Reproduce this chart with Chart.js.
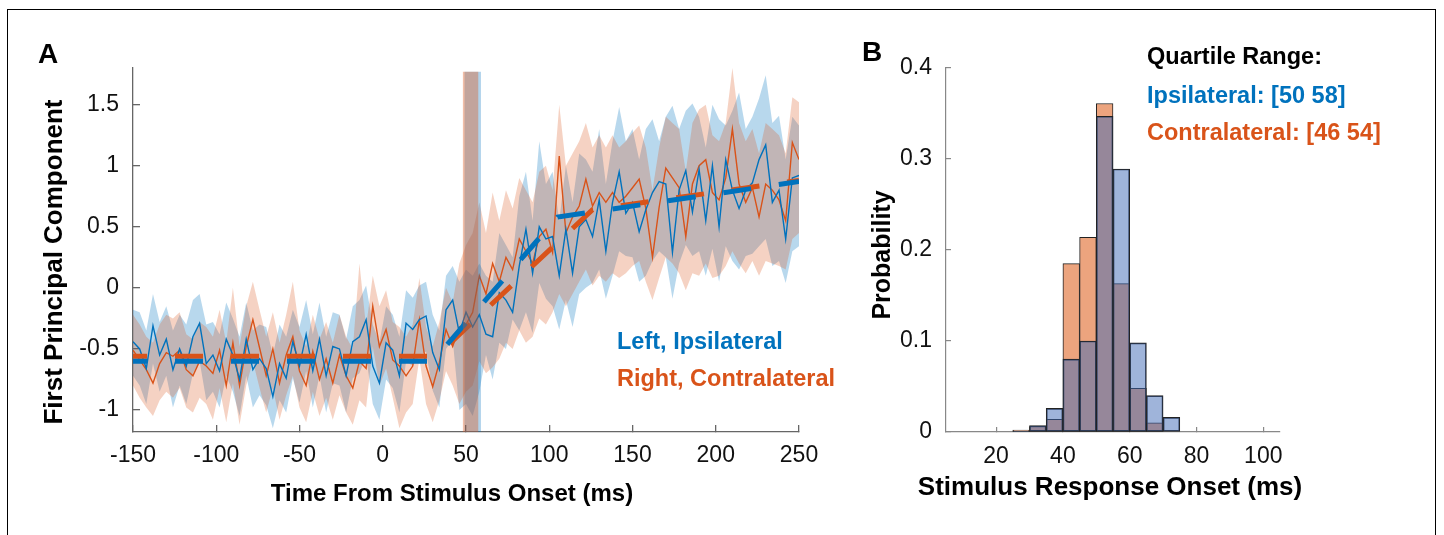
<!DOCTYPE html>
<html>
<head>
<meta charset="utf-8">
<script src="https://cdn.jsdelivr.net/npm/chart.js@4.4.1/dist/chart.umd.min.js"></script>
<style>
  html, body { margin: 0; padding: 0; background: #fff; }
  body { width: 1444px; height: 535px; position: relative; overflow: hidden; }
  #frame {
    position: absolute; left: 7px; top: 9px; width: 1427px; height: 540px;
    border-top: 1.5px solid #000; border-left: 1.5px solid #000; border-right: 1.5px solid #000;
  }
  #panelA { position: absolute; left: 0; top: 0; }
  #panelB { position: absolute; left: 846px; top: 0; }
</style>
</head>
<body>
<div id="frame"></div>
<canvas id="panelA" width="840" height="535"></canvas>
<canvas id="panelB" width="598" height="535"></canvas>
<script>
const FONT = "'Liberation Sans', Arial, Helvetica, sans-serif";
const BLUE = "#0072BD";
const ORANGE = "#D95319";

// ---- panel A: time axis (ms), 4 ms steps ----
const timeMs = [
  -150, -146, -142, -138, -134, -130, -126, -122, -118, -114,
  -110, -106, -102, -98, -94, -90, -86, -82, -78, -74,
  -70, -66, -62, -58, -54, -50, -46, -42, -38, -34,
  -30, -26, -22, -18, -14, -10, -6, -2, 2, 6,
  10, 14, 18, 22, 26, 30, 34, 38, 42, 46,
  50, 54, 58, 62, 66, 70, 74, 78, 82, 86,
  90, 94, 98, 102, 106, 110, 114, 118, 122, 126,
  130, 134, 138, 142, 146, 150, 154, 158, 162, 166,
  170, 174, 178, 182, 186, 190, 194, 198, 202, 206,
  210, 214, 218, 222, 226, 230, 234, 238, 242, 246,
  250,
];

// Left, ipsilateral: mean and shaded band
const ipsiMean = [
  -0.44, -0.50, -0.66, -0.31, -0.55, -0.42, -0.67, -0.50, -0.64, -0.40,
  -0.29, -0.62, -0.55, -0.68, -0.42, -0.55, -0.75, -0.42, -0.67, -0.58,
  -0.66, -0.89, -0.62, -0.74, -0.44, -0.64, -0.38, -0.68, -0.42, -0.72,
  -0.48, -0.50, -0.72, -0.44, -0.40, -0.26, -0.64, -0.78, -0.45, -0.51,
  -0.72, -0.29, -0.34, -0.26, -0.23, -0.53, -0.67, -0.18, -0.10, -0.37,
  -0.20, -0.32, -0.22, -0.38, -0.40, -0.04, -0.10, -0.20, 0.18, 0.48,
  0.12, 0.50, 0.40, 0.42, 0.10, 0.48, 0.12, 0.50, 0.56, 0.42,
  0.72, 0.30, 0.70, 0.95, 0.61, 0.70, 0.46, 0.64, 0.78, 0.87,
  0.85, 0.29, 0.80, 0.96, 0.62, 0.97, 0.55, 1.00, 0.50, 1.05,
  0.80, 0.65, 0.80, 0.86, 1.05, 1.17, 0.70, 0.80, 0.40, 0.90,
  0.92,
];
const ipsiHigh = [
  -0.18, -0.20, -0.35, -0.05, -0.28, -0.15, -0.35, -0.22, -0.30, -0.10,
  -0.05, -0.30, -0.28, -0.38, -0.12, -0.25, -0.40, -0.12, -0.35, -0.30,
  -0.32, -0.55, -0.30, -0.40, -0.18, -0.32, -0.10, -0.38, -0.12, -0.40,
  -0.20, -0.22, -0.42, -0.15, -0.10, 0.02, -0.30, -0.45, -0.15, -0.22,
  -0.40, -0.02, -0.08, 0.02, 0.05, -0.22, -0.35, 0.10, 0.18, 0.05,
  0.15, 0.10, 0.20, 0.10, 0.05, 0.45, 0.35, 0.25, 0.75, 0.95,
  0.55, 1.20, 0.85, 0.95, 0.55, 1.00, 0.70, 1.10, 1.05, 0.95,
  1.30, 0.85, 1.20, 1.48, 1.20, 1.30, 1.05, 1.30, 1.38, 1.20,
  1.40, 1.49, 1.30, 1.45, 1.51, 1.40, 1.15, 1.50, 1.38, 1.33,
  1.45, 1.60, 1.30, 1.40, 1.55, 1.74, 1.35, 1.41, 1.05, 1.40,
  1.33,
];
const ipsiLow = [
  -0.72, -0.80, -0.95, -0.62, -0.85, -0.72, -0.98, -0.80, -0.95, -0.70,
  -0.60, -0.92, -0.85, -0.98, -0.72, -0.85, -1.05, -0.72, -0.98, -0.88,
  -0.96, -1.15, -0.92, -1.02, -0.74, -0.94, -0.68, -0.98, -0.72, -1.02,
  -0.78, -0.80, -1.02, -0.74, -0.70, -0.56, -0.95, -1.08, -0.75, -0.82,
  -1.02, -0.60, -0.64, -0.56, -0.52, -0.84, -0.98, -0.50, -0.42, -1.00,
  -0.95, -1.05, -0.85, -0.55, -0.75, -0.45, -0.50, -0.26, -0.35, -0.20,
  -0.37, 0.04, -0.09, -0.15, -0.34, -0.10, -0.32, -0.05, 0.00, 0.04,
  0.15, -0.09, 0.10, 0.30, 0.26, 0.25, 0.05, 0.10, 0.22, 0.30,
  0.25, -0.09, 0.20, 0.35, 0.26, 0.30, 0.10, 0.32, 0.05, 0.34,
  0.22, 0.15, 0.26, 0.28, 0.34, 0.40, 0.18, 0.22, 0.04, 0.30,
  0.34,
];

// Right, contralateral: mean and shaded band
const contraMean = [
  -0.51, -0.59, -0.67, -0.78, -0.62, -0.53, -0.56, -0.51, -0.67, -0.72,
  -0.60, -0.64, -0.70, -0.51, -0.80, -0.45, -0.80, -0.48, -0.26, -0.49,
  -0.72, -0.50, -0.78, -0.55, -0.40, -0.68, -0.80, -0.52, -0.75, -0.58,
  -0.78, -0.55, -0.72, -0.82, -0.60, -0.66, -0.15, -0.48, -0.34, -0.59,
  -0.64, -0.72, -0.64, -0.26, -0.64, -0.81, -0.61, -0.34, -0.48, -0.32,
  -0.30, -0.20, 0.10, -0.05, 0.20, 0.05, 0.25, 0.15, 0.40, 0.30,
  0.20, 0.42, 0.48, 0.29, 1.08, 0.45, 0.58, 0.67, 0.89, 0.67,
  0.78, 0.70, 0.78, 0.70, 0.75, 0.82, 0.89, 0.65, 0.25, 0.66,
  0.98, 0.90, 0.82, 0.42, 0.85, 1.00, 1.05, 0.78, 0.72, 0.90,
  1.30, 0.85, 0.70, 0.82, 0.58, 0.85, 0.80, 0.72, 0.55, 1.19,
  1.05,
];
const contraHigh = [
  -0.22, -0.30, -0.40, -0.45, -0.30, -0.22, -0.25, -0.20, -0.38, -0.42,
  -0.28, -0.32, -0.40, -0.18, -0.45, 0.00, -0.48, -0.15, 0.05, -0.18,
  -0.40, -0.20, -0.45, -0.22, 0.05, -0.35, -0.48, -0.22, -0.42, -0.28,
  -0.45, -0.22, -0.40, -0.50, 0.20, -0.32, 0.10, -0.15, -0.02, -0.28,
  -0.32, -0.40, -0.30, 0.08, -0.32, -0.48, -0.28, 0.00, -0.12, 0.20,
  0.35, 0.45, 0.70, 0.45, 0.78, 0.55, 0.80, 0.65, 0.90, 0.80,
  0.70, 0.95, 1.00, 0.80, 1.50, 1.00, 1.10, 1.20, 1.35, 1.15,
  1.25, 1.15, 1.25, 1.15, 1.20, 1.27, 1.33, 1.15, 0.80, 1.15,
  1.40, 1.35, 1.30, 0.95, 1.35, 1.46, 1.50, 1.25, 1.20, 1.35,
  1.80, 1.35, 1.20, 1.30, 1.10, 1.35, 1.30, 1.25, 1.10, 1.56,
  1.52,
];
const contraLow = [
  -0.80, -0.90, -0.98, -1.05, -0.92, -0.85, -0.90, -0.82, -0.98, -1.02,
  -0.90, -0.95, -1.08, -0.82, -1.10, -0.78, -1.12, -0.80, -0.60, -0.82,
  -1.02, -0.82, -1.08, -0.88, -0.72, -0.98, -1.10, -0.85, -1.05, -0.90,
  -1.08, -0.88, -1.02, -1.12, -0.92, -0.98, -0.48, -0.80, -0.66, -0.90,
  -1.15, -1.02, -0.95, -0.58, -0.95, -1.10, -0.92, -0.68, -0.80, -0.95,
  -0.85, -0.80, -0.60, -0.70, -0.65, -0.58, -0.45, -0.50, -0.35, -0.45,
  -0.40, -0.25, -0.30, -0.20, -0.05, -0.15, -0.05, 0.05, 0.15, 0.02,
  0.10, 0.05, 0.12, 0.08, 0.12, 0.18, 0.22, 0.05, -0.10, 0.08,
  0.25, 0.20, 0.12, -0.02, 0.12, 0.10, 0.20, 0.08, 0.10, 0.18,
  0.30, 0.20, 0.12, 0.22, 0.10, 0.22, 0.20, 0.18, 0.15, 0.40,
  0.45,
];

// piecewise linear fits (knots)
const fitIpsiT = [-150, 30, 105, 250];
const fitIpsiV = [-0.60, -0.60, 0.58, 0.87];
const fitContraT = [-150, 32, 126, 250];
const fitContraV = [-0.56, -0.56, 0.64, 0.88];

// shaded onset spans (ms) and their top
const onsetSpanIpsi = [49, 59];
const onsetSpanContra = [48, 57.5];
const onsetTop = 1.77;

const xTicksA = [-150, 250, 50];    // min, max, step
const yTicksA = [-1.18, 1.8, 0.5];

// ---- panel B: histogram of response onset ----
const binCenters = [12.5, 17.5, 22.5, 27.5, 32.5, 37.5, 42.5, 47.5, 52.5, 57.5, 62.5, 67.5, 72.5, 77.5, 82.5, 87.5, 92.5, 97.5];
const probIpsi = [0, 0, 0, 0.001, 0.007, 0.026, 0.080, 0.100, 0.347, 0.289, 0.098, 0.040, 0.016, 0, 0, 0, 0, 0];
const probContra = [0, 0, 0, 0.002, 0.006, 0.014, 0.185, 0.214, 0.361, 0.163, 0.048, 0.010, 0, 0, 0, 0, 0, 0];
const xRangeB = [5, 105];
const xTickValuesB = [20, 40, 60, 80, 100];
const yTicksB = [0, 0.4, 0.1];

const pts = (xs, ys) => xs.map((x, i) => ({ x: x, y: ys[i] }));
const plainNumber = (v) => String(Number(Number(v).toFixed(2)));

// draws the panel letters, legends and axis titles as canvas text
function textLayer(id, items) {
  return {
    id: id,
    afterDraw(chart) {
      const ctx = chart.ctx;
      items.forEach((t) => {
        ctx.save();
        ctx.font = t.font;
        ctx.fillStyle = t.color || "#000";
        ctx.textAlign = t.align || "left";
        ctx.textBaseline = "middle";
        ctx.translate(t.x, t.y);
        if (t.rotate) ctx.rotate(-Math.PI / 2);
        ctx.fillText(t.text, 0, 0);
        ctx.restore();
      });
    },
  };
}

const flat = (color, order, data, fillTo) => ({
  type: "line",
  data: data,
  borderWidth: 0,
  pointRadius: 0,
  backgroundColor: color,
  fill: fillTo,
  order: order,
});

const tickFont = { family: FONT, size: 23 };

new Chart(document.getElementById("panelA").getContext("2d"), {
  type: "line",
  data: {
    datasets: [
      flat("rgba(0, 114, 189, 0.28)", 9, pts(timeMs, ipsiHigh), "+1"),
      flat("rgba(0, 114, 189, 0)", 9, pts(timeMs, ipsiLow), false),
      flat("rgba(217, 83, 25, 0.26)", 8, pts(timeMs, contraHigh), "+1"),
      flat("rgba(217, 83, 25, 0)", 8, pts(timeMs, contraLow), false),
      {
        label: "Right, Contralateral",
        data: pts(timeMs, contraMean),
        borderColor: ORANGE,
        borderWidth: 1.4,
        pointRadius: 0,
        fill: false,
        order: 7,
      },
      {
        label: "Left, Ipsilateral",
        data: pts(timeMs, ipsiMean),
        borderColor: BLUE,
        borderWidth: 1.4,
        pointRadius: 0,
        fill: false,
        order: 6,
      },
      {
        data: pts(fitContraT, fitContraV),
        borderColor: ORANGE,
        borderWidth: 5,
        borderDash: [28, 28],
        borderDashOffset: 14,
        borderCapStyle: "butt",
        pointRadius: 0,
        fill: false,
        order: 5,
      },
      {
        data: pts(fitIpsiT, fitIpsiV),
        borderColor: BLUE,
        borderWidth: 5,
        borderDash: [28, 28],
        borderDashOffset: 14,
        borderCapStyle: "butt",
        pointRadius: 0,
        fill: false,
        order: 4,
      },
      flat("rgba(0, 114, 189, 0.3)", 3, pts(onsetSpanIpsi, [onsetTop, onsetTop]), { value: yTicksA[0] }),
      flat("rgba(217, 83, 25, 0.38)", 2, pts(onsetSpanContra, [onsetTop, onsetTop]), { value: yTicksA[0] }),
    ],
  },
  options: {
    responsive: false,
    animation: false,
    events: [],
    layout: { padding: { top: 68, right: 41, bottom: 0, left: 0 } },
    plugins: { legend: { display: false }, tooltip: { enabled: false } },
    elements: { line: { tension: 0 } },
    scales: {
      x: {
        type: "linear",
        min: xTicksA[0],
        max: xTicksA[1],
        ticks: {
          stepSize: xTicksA[2],
          includeBounds: false,
          maxRotation: 0,
          padding: 17,
          color: "#111",
          font: tickFont,
          callback: plainNumber,
        },
        grid: { drawOnChartArea: false, tickLength: -7, color: "#666", lineWidth: 1.3 },
        border: { color: "#666", width: 1.3 },
        afterFit(scale) { scale.height = 103; },
      },
      y: {
        type: "linear",
        min: yTicksA[0],
        max: yTicksA[1],
        ticks: {
          stepSize: yTicksA[2],
          includeBounds: false,
          padding: 21,
          color: "#111",
          font: tickFont,
          callback: plainNumber,
        },
        grid: { drawOnChartArea: false, tickLength: -7, color: "#666", lineWidth: 1.3 },
        border: { color: "#666", width: 1.3 },
        afterFit(scale) { scale.width = 133; },
      },
    },
  },
  plugins: [
    textLayer("labelsA", [
      { text: "A", x: 38, y: 55, font: "bold 28px " + FONT },
      { text: "First Principal Component", x: 55, y: 262, rotate: true, align: "center", font: "bold 26px " + FONT },
      { text: "Time From Stimulus Onset (ms)", x: 452, y: 494, align: "center", font: "bold 24px " + FONT },
      { text: "Left, Ipsilateral", x: 617, y: 343, color: BLUE, font: "bold 23.5px " + FONT },
      { text: "Right, Contralateral", x: 617, y: 380, color: ORANGE, font: "bold 23.5px " + FONT },
    ]),
  ],
});

new Chart(document.getElementById("panelB").getContext("2d"), {
  type: "bar",
  data: {
    datasets: [
      {
        label: "Ipsilateral",
        data: pts(binCenters, probIpsi),
        backgroundColor: "rgba(64, 105, 182, 0.5)",
        borderColor: "#222",
        borderWidth: 1,
        borderSkipped: false,
        order: 1,
      },
      {
        label: "Contralateral",
        data: pts(binCenters, probContra),
        backgroundColor: "rgb(236, 164, 126)",
        borderColor: "#222",
        borderWidth: 1,
        borderSkipped: false,
        order: 2,
      },
    ],
  },
  options: {
    responsive: false,
    animation: false,
    events: [],
    grouped: false,
    barPercentage: 1,
    categoryPercentage: 1,
    layout: { padding: { top: 68, right: 164, bottom: 0, left: 0 } },
    plugins: { legend: { display: false }, tooltip: { enabled: false } },
    scales: {
      x: {
        type: "linear",
        offset: false,
        min: xRangeB[0],
        max: xRangeB[1],
        afterBuildTicks(scale) {
          scale.ticks = xTickValuesB.map((v) => ({ value: v }));
        },
        ticks: {
          maxRotation: 0,
          padding: 16,
          color: "#111",
          font: tickFont,
        },
        grid: { offset: false, drawOnChartArea: false, tickLength: -5, color: "#888", lineWidth: 1.2 },
        border: { color: "#888", width: 1.2 },
        afterFit(scale) { scale.height = 103; },
      },
      y: {
        type: "linear",
        min: yTicksB[0],
        max: yTicksB[1],
        ticks: {
          stepSize: yTicksB[2],
          padding: 19,
          color: "#111",
          font: tickFont,
          callback: plainNumber,
        },
        grid: { drawOnChartArea: false, tickLength: -5, color: "#888", lineWidth: 1.2 },
        border: { color: "#888", width: 1.2 },
        afterFit(scale) { scale.width = 100; },
      },
    },
  },
  plugins: [
    textLayer("labelsB", [
      { text: "B", x: 16, y: 53, font: "bold 28px " + FONT },
      { text: "Probability", x: 37, y: 255, rotate: true, align: "center", font: "bold 25px " + FONT },
      { text: "Stimulus Response Onset (ms)", x: 264, y: 488, align: "center", font: "bold 26px " + FONT },
      { text: "Quartile Range:", x: 301, y: 58, font: "bold 23.5px " + FONT },
      { text: "Ipsilateral: [50 58]", x: 301, y: 97, color: BLUE, font: "bold 23.5px " + FONT },
      { text: "Contralateral: [46 54]", x: 301, y: 134, color: ORANGE, font: "bold 23.5px " + FONT },
    ]),
  ],
});
</script>
</body>
</html>
